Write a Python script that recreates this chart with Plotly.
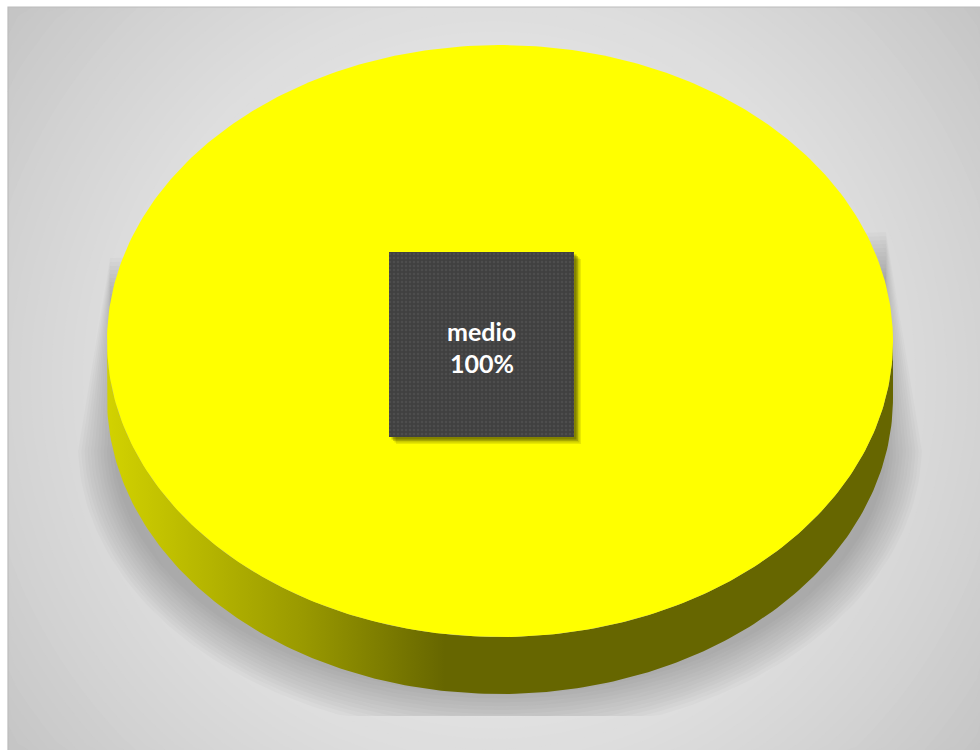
import numpy as np
import plotly.graph_objects as go

# Data
categories = ["medio"]
values = [1]
slice_colors = ["#ffff00"]

# Geometry of the tilted pie (pixel space of the canvas)
W, H = 980, 750
CX, CY = 500, 341
RX, RY = 393, 296
DEPTH = 57
FLOOR_Y = 716

fig = go.Figure()


def rect(x0, y0, x1, y1):
    return [x0, x1, x1, x0, x0], [y0, y0, y1, y1, y0]


def gray(v):
    v = int(round(v))
    return f"rgb({v},{v},{v})"


# Chart-area background: light centre fading to darker corners
bx, by = rect(8, 7, W + 2, H + 2)
fig.add_trace(go.Scatter(x=bx, y=by, mode="lines", fill="toself",
                         line=dict(width=0), fillcolor=gray(196),
                         hoverinfo="skip", showlegend=False))
BGX, BGY = 494, 380
DMAX = 620.0
for r in np.linspace(DMAX, 4, 60):
    t = np.linspace(0, 2 * np.pi, 160)
    ex = np.clip(BGX + r * np.cos(t), 8, W + 2)
    ey = np.clip(BGY + r * np.sin(t), 7, H + 2)
    col = 237 - 41 * (r / DMAX) ** 2
    fig.add_trace(go.Scatter(x=ex, y=ey, mode="lines", fill="toself",
                             line=dict(width=0), fillcolor=gray(col),
                             hoverinfo="skip", showlegend=False))

# border of the chart area
fig.add_trace(go.Scatter(x=[8, 8, W], y=[H, 7, 7], mode="lines",
                         line=dict(color="#bcbcbc", width=1.2),
                         hoverinfo="skip", showlegend=False))

# Soft shadow cast by the pie, layered translucent shapes
N_SH = 12
for k in range(N_SH):
    shrink = 3.2 * k
    t = np.linspace(0.02, np.pi - 0.02, 140)
    arc_x = CX + (422 - shrink) * np.cos(t)
    arc_y = 445 + (292 - shrink * 1.2) * np.sin(t)
    arc_y = np.minimum(arc_y, FLOOR_Y)
    xs = [886, 921 - shrink] + list(arc_x) + [79 + shrink, 110]
    ys = [232 + 4 * k, 445] + list(arc_y) + [445, 258 + 4 * k]
    fig.add_trace(go.Scatter(x=xs, y=ys, mode="lines", fill="toself",
                             line=dict(width=0), fillcolor="rgba(0,0,0,0.021)",
                             hoverinfo="skip", showlegend=False))

# Slice angles from the values
total = float(sum(values))
fractions = [v / total for v in values]
start = 0.0
for cat, frac, col in zip(categories, fractions, slice_colors):
    a0, a1 = start, start + frac * 2 * np.pi
    start = a1

    # side wall (visible front half only)
    lo, hi = max(a0, 0.0), min(a1, np.pi)
    if hi > lo:
        t = np.linspace(lo, hi, 200)
        ex = CX + RX * np.cos(t)
        ey = CY + RY * np.sin(t)
        sx = list(ex) + list(ex[::-1])
        sy = list(ey) + list((ey + DEPTH)[::-1])
        fig.add_trace(go.Scatter(
            x=sx, y=sy, mode="lines", fill="toself", line=dict(width=0),
            fillgradient=dict(type="horizontal", start=CX - RX, stop=CX + RX,
                              colorscale=[[0, "#d2d200"], [0.25, "#999900"],
                                          [0.43, "#666600"], [1, "#666600"]]),
            hoverinfo="skip", showlegend=False))

    # top face
    t = np.linspace(a0, a1, 400)
    tx = CX + RX * np.cos(t)
    ty = CY + RY * np.sin(t)
    if frac < 1:
        tx = np.concatenate([[CX], tx, [CX]])
        ty = np.concatenate([[CY], ty, [CY]])
    fig.add_trace(go.Scatter(x=tx, y=ty, mode="lines", fill="toself",
                             line=dict(width=0), fillcolor=col,
                             name=cat, hoverinfo="skip", showlegend=False))

# Data label box with drop shadow
LX0, LY0, LX1, LY1 = 389, 252, 574, 437
for k, a in enumerate([0.09, 0.13, 0.17, 0.22]):
    off = 7 - k * 1.5
    sx, sy = rect(LX0 + off, LY0 + off, LX1 + off, LY1 + off)
    fig.add_trace(go.Scatter(x=sx, y=sy, mode="lines", fill="toself",
                             line=dict(width=0), fillcolor=f"rgba(0,0,0,{a})",
                             hoverinfo="skip", showlegend=False))
lx, ly = rect(LX0, LY0, LX1, LY1)
fig.add_trace(go.Scatter(
    x=lx, y=ly, mode="lines", fill="toself", line=dict(width=0),
    fillcolor="#404040",
    fillpattern=dict(shape=".", bgcolor="#404040", fgcolor="#5a5a5a",
                     size=4, solidity=0.3),
    hoverinfo="skip", showlegend=False))

label_font = dict(family="Lato", size=25, color="white")
mid_x = (LX0 + LX1) / 2
fig.add_annotation(x=mid_x, y=331, text=f"<b>{categories[0]}</b>",
                   showarrow=False, font=label_font, xref="x", yref="y")
fig.add_annotation(x=mid_x, y=363, text=f"<b>{fractions[0] * 100:.0f}%</b>",
                   showarrow=False, font=label_font, xref="x", yref="y")

fig.update_layout(
    width=W, height=H, margin=dict(l=0, r=0, t=0, b=0),
    paper_bgcolor="white", plot_bgcolor="white",
    xaxis=dict(range=[0, W], visible=False, fixedrange=True),
    yaxis=dict(range=[H, 0], visible=False, fixedrange=True),
    showlegend=False,
)

fig.write_html("out.html")
